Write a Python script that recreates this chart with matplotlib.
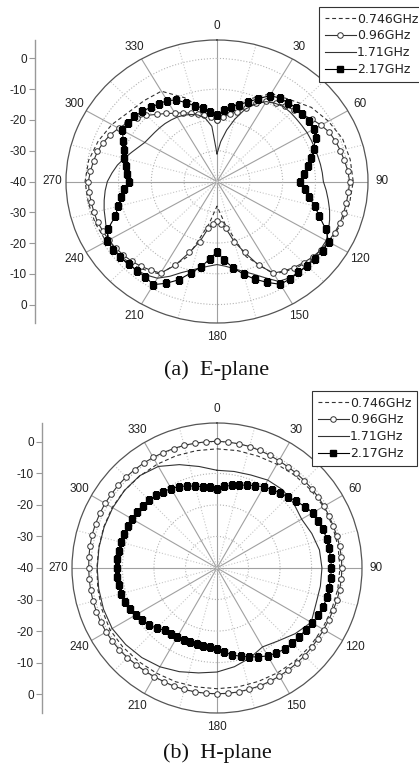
import numpy as np
import matplotlib
matplotlib.use('Agg')
from matplotlib import pyplot as plt

# angles (deg): most curves every 5, some plain lines every 10
ang_mk = np.arange(0, 360, 5)
ang_ln = np.arange(0, 360, 10)

series = ['0.746GHz', '0.96GHz', '1.71GHz', '2.17GHz']
angle_labels = ['0', '30', '60', '90', '120', '150', '180', '210', '240', '270', '300', '330']
left_labels = ['0', '-10', '-20', '-30', '-40', '-30', '-20', '-10', '0']
captions = ['(a)  E-plane', '(b)  H-plane']

# ---- E-plane (dB) ----
e_0746 = [-19, -15.5, -11.5, -7.0, -5.3, -2.5, -0.8, 0.7, 1.2, 1.5, 1.0, 0.2,
          -0.4, -1.4, -3.0, -5.2, -14, -26, -32, -26, -14, -5.2, -3.2, -1.8,
          -1.0, -0.5, -0.2, 0.2, -0.3, -1.5, -3.0, -4.9, -5.6, -6.1, -11, -16]
e_096 = [-20, -19, -17.8, -16.5, -14.6, -12, -9.9, -8.8, -7.9, -7.0, -6.1, -4.7,
         -3.4, -2.2, -1.6, -1.1, -0.6, 0, 0.4, 0.2, 0, -0.1, -0.2, -0.5,
         -0.9, -1.3, -1.9, -2.7, -3.5, -4.5, -5.6, -10, -15.5, -19.8, -24.5, -26.2,
         -27, -26.2, -24.5, -19.8, -15.5, -10, -5.6, -4.8, -4.0, -3.3, -2.8, -2.3,
         -1.9, -1.7, -1.3, -1.2, -1.1, -0.9, -0.8, -1.3, -1.8, -2.3, -3.1, -4.1,
         -5.4, -6.7, -8.1, -9.6, -11.5, -13, -14.4, -15.3, -16.4, -17.2, -18, -19]
e_171 = [-31, -27, -23, -19, -15, -12.2, -10, -9, -8.3, -8.3, -8.4, -8.4,
         -8.3, -8.3, -8.3, -8.2, -8.0, -7.8, -7.6, -6.6, -5.6, -4.5, -3.5, -2.5,
         -1.6, -1.5, -1.4, -1.4, -1.4, -1.7, -2.5, -5.5, -8.0, -9.8, -11.3, -12.4,
         -13, -12.4, -11.5, -10.2, -8.5, -6.0, -3.7, -2.8, -2.2, -1.8, -1.6, -1.8,
         -2.2, -2.8, -3.8, -4.4, -5.1, -5.8, -6.6, -7.9, -9.2, -10.8, -12.3, -13.6,
         -14.6, -15.0, -15.2, -15.3, -15.4, -15.6, -15.8, -16.2, -16.8, -17.6, -19.0, -22]
e_217 = [-18.4, -16.8, -15.4, -14.1, -12.5, -10.3, -7.8, -6.8, -6.5, -6.0, -6.0, -5.7,
         -5.8, -6.8, -8.7, -10.2, -11.8, -13.3, -14.7, -13.1, -11.6, -9.2, -6.8, -3.5,
         -0.7, -0.7, -1.0, -1.2, -1.4, -1.3, -1.4, -3.8, -6.2, -8.8, -11.5, -14.3,
         -17.1, -14.7, -11.8, -9.2, -6.0, -3.5, -1.3, -2.0, -2.2, -2.0, -1.6, -1.4,
         -1.4, -3.3, -7.0, -8.8, -10.4, -11.6, -13.2, -12.5, -11.7, -10.8, -9.7, -8.5,
         -6.7, -6.8, -7.1, -7.8, -8.5, -9.2, -9.6, -10.8, -12.8, -14.6, -15.8, -17.2]

# ---- H-plane (dB) ----
h_0746 = [-2.2, -2.2, -2.2, -2.0, -1.6, -1.3, -1.0, -1.0, -1.0, -1.0, -1.1, -1.3,
          -1.4, -1.4, -1.5, -1.6, -1.7, -1.7, -1.7, -1.7, -1.6, -1.5, -1.3, -1.0,
          -0.8, -1.2, -1.6, -1.9, -1.9, -1.8, -1.6, -1.7, -1.9, -2.0, -2.1, -2.2]
h_096 = [0.2, 0.1, 0, -0.1, -0.3, -0.5, -0.7, -0.8, -0.8, -0.8, -0.8, -0.8,
         -0.8, -0.8, -0.8, -0.6, -0.5, -0.4, -0.4, -0.4, -0.5, -0.6, -0.8, -0.9,
         -0.9, -0.9, -0.8, -0.7, -0.6, -0.5, -0.4, -0.3, -0.2, -0.2, -0.1, -0.1,
         -0.1, -0.1, -0.1, -0.1, -0.1, -0.2, -0.2, -0.1, 0, 0.2, 0.4, 0.5,
         0.6, 0.7, 0.7, 0.7, 0.7, 0.7, 0.7, 0.8, 0.9, 1.0, 1.0, 1.0,
         1.0, 0.9, 0.9, 0.8, 0.7, 0.6, 0.5, 0.4, 0.3, 0.3, 0.2, 0.2]
h_171 = [-9.0, -8.9, -8.6, -7.8, -7.6, -8.2, -9.0, -8.0, -7.0, -6.7, -6.7, -6.6,
         -5.5, -7.6, -9.8, -11.1, -9.6, -8.2, -7.0, -6.2, -5.0, -3.8, -2.9, -2.2,
         -1.6, -1.7, -1.9, -2.0, -2.0, -1.9, -1.8, -1.7, -1.8, -2.8, -5.1, -7.3]
h_217 = [-14.8, -14.0, -13.4, -12.8, -12.0, -11.2, -10.3, -9.6, -8.9, -8.1, -7.1, -6.0,
         -4.9, -4.5, -4.2, -4.0, -3.9, -3.8, -3.7, -3.8, -3.9, -4.0, -4.1, -4.5,
         -5.1, -5.6, -6.1, -6.3, -6.5, -7.1, -7.8, -8.9, -10.0, -11.0, -12.0, -13.2,
         -14.4, -14.7, -14.9, -15.0, -15.0, -14.9, -14.7, -14.5, -14.2, -13.0, -11.8, -11.0,
         -10.2, -9.5, -8.9, -8.5, -8.4, -8.3, -8.3, -8.3, -8.4, -8.5, -8.6, -8.7,
         -8.8, -9.0, -9.2, -9.5, -9.9, -10.4, -10.9, -11.5, -12.3, -13.1, -13.8, -14.1]

R_MIN, R_MAX = -40, 6
W, H = 419, 766

fig = plt.figure(figsize=(W / 100, H / 100), dpi=100)


def closed(vals):
    ang = ang_mk if len(vals) == len(ang_mk) else ang_ln
    a = np.deg2rad(np.append(ang, ang[0]))
    v = np.append(vals, vals[0])
    return a, v


def draw_plane(box, axis_x, d0746, d096, d171, d217, leg_xy, caption, cap_y):
    # box in pixels: left, top, right, bottom
    l, t, r, b = box
    ax = fig.add_axes([l / W, 1 - b / H, (r - l) / W, (b - t) / H], projection='polar')
    ax.set_aspect('auto')
    ax.set_theta_zero_location('N')
    ax.set_theta_direction(-1)
    ax.set_rlim(R_MIN, R_MAX)

    ax.set_thetagrids(np.arange(0, 360, 30), angle_labels, fontsize=8.5,
                      family='Liberation Sans', color='#222222')
    ax.set_xticks(np.deg2rad(np.arange(15, 360, 30)), minor=True)
    ax.set_rgrids([-30, -20, -10, 0])
    ax.set_yticklabels([])
    ax.tick_params(axis='x', which='both', length=0, pad=3)
    ax.xaxis.grid(True, which='major', color='#a0a0a0', lw=0.8, ls='-')
    ax.xaxis.grid(True, which='minor', color='#c8c8c8', lw=0.8, ls=':')
    ax.yaxis.grid(True, color='#b4b4b4', lw=0.8, ls=':')
    ax.spines['polar'].set_color('#555555')
    ax.spines['polar'].set_linewidth(0.9)

    a, v = closed(d0746)
    l1, = ax.plot(a, v, color='#333333', lw=0.8, dashes=(3.5, 2.5))
    a, v = closed(d096)
    l2, = ax.plot(a, v, color='#333333', lw=0.8, marker='o', ms=4, mfc='white',
                  mec='#333333', mew=0.7)
    a, v = closed(d171)
    l3, = ax.plot(a, v, color='#333333', lw=0.8)
    a, v = closed(d217)
    l4, = ax.plot(a, v, color='black', lw=0.8, marker='s', ms=3.8)

    leg = ax.legend([l1, l2, l3, l4], series, loc='upper left',
                    bbox_to_anchor=(leg_xy[0] / W, 1 - leg_xy[1] / H),
                    bbox_transform=fig.transFigure, borderaxespad=0,
                    fontsize=9, handlelength=2.5, handletextpad=0.1,
                    labelspacing=0.3, borderpad=0.45, fancybox=False,
                    framealpha=1, edgecolor='#333333')
    leg.get_frame().set_linewidth(0.8)
    for txt in leg.get_texts():
        txt.set_color('#222222')

    # linear dB scale at the left
    ay = fig.add_axes([axis_x / W, 1 - b / H, 0.0001, (b - t) / H])
    ay.set_ylim(-(R_MAX - R_MIN), R_MAX - R_MIN)
    pos = [40, 30, 20, 10, 0, -10, -20, -30, -40]
    ay.set_yticks(pos)
    ay.set_yticklabels(left_labels, fontsize=8.5, family='Liberation Sans', color='#222222')
    ay.set_xticks([])
    for s in ['top', 'right', 'bottom']:
        ay.spines[s].set_visible(False)
    ay.spines['left'].set_color('#999999')
    ay.spines['left'].set_linewidth(1.0)
    ay.tick_params(axis='y', direction='out', length=4, width=0.8, color='#999999', pad=2)
    ay.patch.set_visible(False)

    fig.text(217 / W, 1 - cap_y / H, caption, ha='center', va='center',
             fontsize=16, family='Liberation Serif', color='#111111')


draw_plane((66, 40, 368, 323), 35, e_0746, e_096, e_171, e_217, (319, 7), captions[0], 370)
draw_plane((72, 423, 362, 713), 42, h_0746, h_096, h_171, h_217, (312, 391), captions[1], 753)

fig.savefig('out.png', dpi=100)
